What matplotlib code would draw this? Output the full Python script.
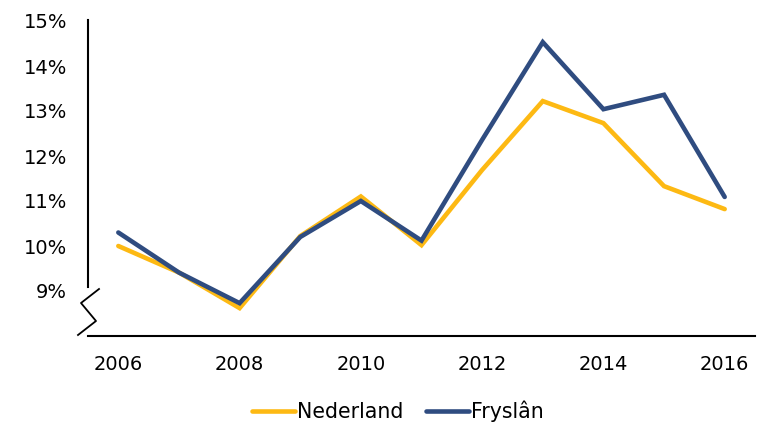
import matplotlib
matplotlib.use('Agg')
import matplotlib.pyplot as plt
from matplotlib.lines import Line2D

# ── Data ──────────────────────────────────────────────────────────────────────
years = [2006, 2007, 2008, 2009, 2010, 2011, 2012, 2013, 2014, 2015, 2016]
nederland = [10.0, 9.41, 8.62, 10.22, 11.1, 10.02, 11.69, 13.22, 12.73, 11.33, 10.82]
fryslan   = [10.3, 9.41, 8.73, 10.2, 11.0, 10.12, 12.36, 14.53, 13.04, 13.36, 11.09]
xticks = [2006, 2008, 2010, 2012, 2014, 2016]
yticks = [9, 10, 11, 12, 13, 14, 15]

YELLOW = '#FDB913'
NAVY = '#2F4C80'

W, H = 769, 422
fig = plt.figure(figsize=(W / 100, H / 100), dpi=100)
ax = fig.add_axes([88 / W, 1 - 336 / H, (755 - 88) / W, (336 - 21) / H])

ax.plot(years, nederland, color=YELLOW, lw=3.3, solid_capstyle='round',
        solid_joinstyle='miter', label='Nederland')
ax.plot(years, fryslan, color=NAVY, lw=3.3, solid_capstyle='round',
        solid_joinstyle='miter', label='Fryslân')

ax.set_xlim(2005.5, 2016.5)
ax.set_ylim(8, 15)
ax.set_xticks(xticks)
ax.set_xticklabels([str(x) for x in xticks])
ax.set_yticks(yticks)
ax.set_yticklabels([f'{y}%' for y in yticks])
ax.tick_params(axis='both', length=0, labelsize=14, colors='black')
ax.tick_params(axis='y', pad=15)
ax.tick_params(axis='x', pad=13.5)

for s in ('top', 'right'):
    ax.spines[s].set_visible(False)
ax.spines['left'].set_linewidth(1.5)
ax.spines['bottom'].set_linewidth(1.5)
ax.spines['left'].set_bounds(9.1, 15.02)

# axis break zigzag (pixel coords -> figure fraction)
zz_x = [99, 81, 96, 78]
zz_y = [289, 303, 321, 335]
fig.add_artist(Line2D([x / W for x in zz_x], [1 - y / H for y in zz_y],
                      color='black', lw=1.3, transform=fig.transFigure))

fig.legend(loc='center', bbox_to_anchor=(398 / W, 1 - 411 / H), ncol=2,
           frameon=False, fontsize=14.8, handlelength=2.1, handletextpad=0.1,
           columnspacing=1.1)

fig.savefig('out.png', dpi=100)
